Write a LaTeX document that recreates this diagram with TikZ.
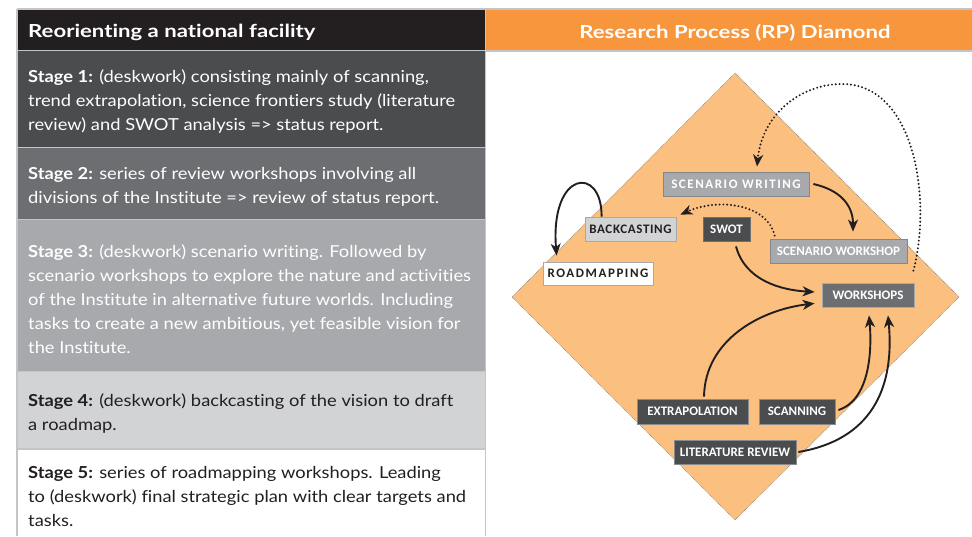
\documentclass[tikz,border=0pt]{standalone}
\usepackage{fontspec}
\setmainfont{Lato}[FakeStretch=1.11, Ligatures=NoCommon]
\newfontfamily\headfont{Lato}[FakeStretch=1.23, Ligatures=NoCommon]
\newfontfamily\lblfont{Carlito}
\newfontfamily\spacedfont[LetterSpace=12]{Carlito}
\newfontfamily\lspacedfont[LetterSpace=5]{Carlito}
\usetikzlibrary{arrows.meta,calc}
\definecolor{hdrblack}{HTML}{231F20}
\definecolor{gA}{HTML}{4B4C4E}
\definecolor{gB}{HTML}{6D6E71}
\definecolor{gC}{HTML}{A7A9AC}
\definecolor{gD}{HTML}{D1D3D4}
\definecolor{frame}{HTML}{C4C5C7}
\definecolor{orangeH}{HTML}{F7963C}
\definecolor{orangeL}{HTML}{FBBF80}
\tikzset{
  line/.style={anchor=base west, inner sep=0pt, font=\fontsize{16.5}{24}\selectfont},
  wline/.style={line, text=white},
  kline/.style={line, text=hdrblack},
  lbl/.style={draw, line width=0.8pt, inner sep=0pt, minimum height=24pt, font=\lblfont\bfseries\fontsize{13}{15}\selectfont},
  arr/.style={line width=1.9pt, draw=hdrblack, -{Stealth[length=12pt,width=10pt,inset=3.5pt]}},
  darr/.style={arr, line cap=round, dash pattern=on 0pt off 3.8pt, line width=2.2pt}
}
\begin{document}
\begin{tikzpicture}[x=1pt,y=-1pt]
\useasboundingbox (0,0) rectangle (972,536);
\fill[white] (0,0) rectangle (972,536);
% left panel
\fill[hdrblack] (18,10) rectangle (485,50);
\fill[gA] (18,51) rectangle (485,147);
\fill[gB] (18,148) rectangle (485,219);
\fill[gC] (18,220) rectangle (485,371);
\fill[gD] (18,372) rectangle (485,449);
\fill[orangeH] (486,10) rectangle (972,50);
\draw[frame, line width=1.5pt] (17,9) -- (972,9);
\draw[frame, line width=1.5pt] (17,9) -- (17,536);
\draw[frame, line width=1.5pt] (485.5,9) -- (485.5,536);
\foreach \yy in {50.5,147.5,219.5,371.5,449} \draw[frame, line width=1.5pt] (17,\yy) -- (485,\yy);
\draw[frame, line width=1.5pt] (486,51) -- (972,51);
% titles
\node[anchor=base west, inner sep=0pt, text=white, font=\headfont\bfseries\fontsize{18}{24}\selectfont] (t1) at (28,37) {Reorienting a national facility};
\node[anchor=base, inner sep=0pt, text=white, font=\headfont\bfseries\fontsize{18}{24}\selectfont] (t2) at (735,38) {Research Process (RP) Diamond};
% stage texts
\node[wline] (s1a) at (28,82) {\textbf{Stage 1:} (deskwork) consisting mainly of scanning,};
\node[wline] (s1b) at (28,106) {trend extrapolation, science frontiers study (literature};
\node[wline] (s1c) at (28,130) {review) and SWOT analysis => status report.};
\node[wline] (s2a) at (28,179) {\textbf{Stage 2:} series of review workshops involving all};
\node[wline] (s2b) at (28,203) {divisions of the Institute => review of status report.};
\node[wline] (s3a) at (28,257) {\textbf{Stage 3:} (deskwork) scenario writing. Followed by};
\node[wline] (s3b) at (28,281) {scenario workshops to explore the nature and activities};
\node[wline] (s3c) at (28,305) {of the Institute in alternative future worlds. Including};
\node[wline] (s3d) at (28,329) {tasks to create a new ambitious, yet feasible vision for};
\node[wline] (s3e) at (28,353) {the Institute.};
\node[kline] (s4a) at (28,406) {\textbf{Stage 4:} (deskwork) backcasting of the vision to draft};
\node[kline] (s4b) at (28,430) {a roadmap.};
\node[kline] (s5a) at (28,478) {\textbf{Stage 5:} series of roadmapping workshops. Leading};
\node[kline] (s5b) at (28,502) {to (deskwork) final strategic plan with clear targets and};
\node[kline] (s5c) at (28,526) {tasks.};
% diamond
\path[fill=orangeL, draw=gray, line width=0.5pt, dash pattern=on 0.8pt off 0.8pt] (735,73) -- (959,297) -- (735,520) -- (512,297) -- cycle;
% boxes
\node[lbl, fill=gC, draw=gC!80!black, text=white, minimum width=146pt] (sw) at (736,184) {\spacedfont\bfseries SCENARIO WRITING};
\node[lbl, fill=gD, draw=gC, text=hdrblack, minimum width=91pt] (bc) at (630.5,229) {\lspacedfont\bfseries BACKCASTING};
\node[lbl, fill=gA, draw=gB, text=white, minimum width=47pt] (swot) at (726.5,229) {SWOT};
\node[lbl, fill=gC, draw=gC!80!black, text=white, minimum width=137pt] (sws) at (838.5,251) {SCENARIO WORKSHOP};
\node[lbl, fill=white, draw=gC, text=hdrblack, minimum width=110pt, minimum height=23pt] (rm) at (598,273.5) {\spacedfont\bfseries ROADMAPPING};
\node[lbl, fill=gB, draw=gC, text=white, minimum width=92pt] (wk) at (868,295) {WORKSHOPS};
\node[lbl, fill=gA, draw=gB!80!white, text=white, minimum width=111pt, minimum height=25pt] (ex) at (692.5,411.5) {EXTRAPOLATION};
\node[lbl, fill=gA, draw=gB!80!white, text=white, minimum width=76pt, minimum height=25pt] (sc) at (797,411.5) {SCANNING};
\node[lbl, fill=gA, draw=gB!80!white, text=white, minimum width=122pt] (lr) at (735,452) {LITERATURE REVIEW};
% arrows
\draw[darr] ($(wk.north east)+(-1,-12)$) .. controls (932,200) and (915,84) .. (842,84) .. controls (800,84) and (762,115) .. ($(sw.north)+(21,-5)$);
\draw[arr] ($(sw.east)+(4,0)$) .. controls (840,190) and (853,205) .. ($(sws.north)+(14.5,-7)$);
\draw[darr] ($(sws.north west)+(5,-3)$) .. controls (768,205) and (720,197) .. ($(bc.north east)+(4,-2)$);
\draw[arr] ($(bc.north west)+(17,0)$) .. controls (602,165) and (550,170) .. ($(rm.north west)+(14,-6)$);
\draw[arr] ($(swot.south)+(9.5,5)$) .. controls (745,280) and (780,290) .. ($(wk.west)+(-7,-3)$);
\draw[arr] ($(ex.north)+(11.5,-2)$) .. controls (705,340) and (760,310) .. ($(wk.south west)+(-7,-4)$);
\draw[arr] ($(sc.east)+(3,-1.5)$) .. controls (870,400) and (872,350) .. ($(wk.south)+(1,8)$);
\draw[arr] ($(lr.east)+(2,0)$) .. controls (870,440) and (895,390) .. ($(wk.south)+(20,8)$);
\end{tikzpicture}
\end{document}
